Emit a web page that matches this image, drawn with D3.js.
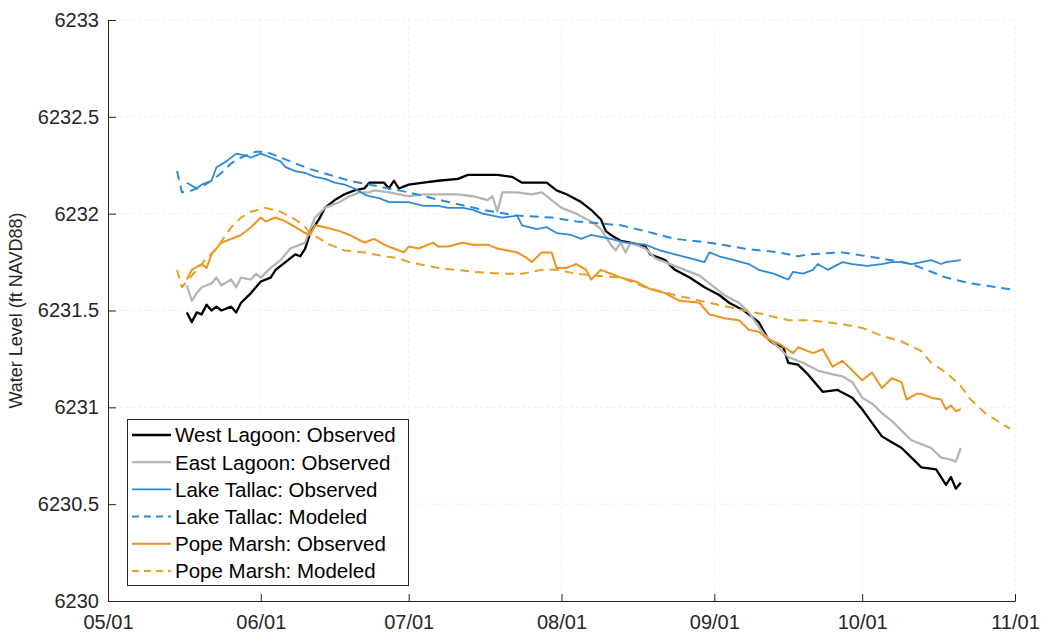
<!DOCTYPE html>
<html><head><meta charset="utf-8">
<script src="https://cdn.jsdelivr.net/npm/d3@7"></script>
<style>body{margin:0;background:#fff;} text{font-family:"Liberation Sans",Arial,sans-serif;}</style>
</head><body>
<svg id="chart" width="1044" height="634"></svg>
<script>
const YEAR = 2019;
const xTickLabels = ["05/01","06/01","07/01","08/01","09/01","10/01","11/01"];
const yTicks = [6230, 6230.5, 6231, 6231.5, 6232, 6232.5, 6233];
const seriesNames = ["West Lagoon: Observed","East Lagoon: Observed","Lake Tallac: Observed","Lake Tallac: Modeled","Pope Marsh: Observed","Pope Marsh: Modeled"];

const westLagoon = [["05-17",6231.49],["05-18",6231.44],["05-19",6231.49],["05-20",6231.48],["05-21",6231.53],["05-22",6231.50],["05-23",6231.52],["05-24",6231.50],["05-26",6231.52],["05-27",6231.49],["05-28",6231.54],["05-30",6231.59],["05-31",6231.62],["06-01",6231.65],["06-03",6231.67],["06-04",6231.71],["06-06",6231.75],["06-08",6231.79],["06-09",6231.78],["06-10",6231.82],["06-11",6231.90],["06-12",6231.94],["06-13",6231.98],["06-14",6232.03],["06-16",6232.07],["06-18",6232.10],["06-20",6232.12],["06-22",6232.13],["06-23",6232.16],["06-25",6232.16],["06-26",6232.16],["06-27",6232.13],["06-28",6232.17],["06-29",6232.13],["07-01",6232.15],["07-04",6232.16],["07-07",6232.17],["07-11",6232.18],["07-13",6232.20],["07-16",6232.20],["07-19",6232.20],["07-22",6232.19],["07-24",6232.16],["07-27",6232.16],["07-29",6232.16],["07-31",6232.12],["08-02",6232.10],["08-05",6232.06],["08-07",6232.02],["08-09",6231.97],["08-10",6231.91],["08-11",6231.89],["08-13",6231.86],["08-15",6231.85],["08-18",6231.83],["08-19",6231.79],["08-22",6231.76],["08-24",6231.71],["08-27",6231.67],["08-30",6231.62],["09-02",6231.58],["09-04",6231.54],["09-07",6231.50],["09-10",6231.44],["09-12",6231.35],["09-13",6231.33],["09-15",6231.31],["09-16",6231.23],["09-18",6231.22],["09-20",6231.17],["09-23",6231.08],["09-26",6231.09],["09-29",6231.05],["10-01",6230.99],["10-03",6230.92],["10-05",6230.85],["10-07",6230.82],["10-09",6230.79],["10-11",6230.74],["10-13",6230.69],["10-16",6230.68],["10-18",6230.60],["10-19",6230.64],["10-20",6230.58],["10-21",6230.61]];

const eastLagoon = [["05-17",6231.63],["05-18",6231.55],["05-19",6231.59],["05-20",6231.62],["05-22",6231.64],["05-23",6231.67],["05-24",6231.63],["05-26",6231.66],["05-27",6231.62],["05-28",6231.67],["05-30",6231.66],["05-31",6231.69],["06-01",6231.67],["06-03",6231.72],["06-05",6231.76],["06-07",6231.82],["06-09",6231.84],["06-10",6231.85],["06-11",6231.92],["06-12",6231.98],["06-14",6232.03],["06-17",6232.06],["06-19",6232.09],["06-21",6232.11],["06-23",6232.11],["06-24",6232.12],["06-27",6232.11],["06-29",6232.10],["07-01",6232.09],["07-04",6232.10],["07-07",6232.10],["07-11",6232.10],["07-14",6232.09],["07-17",6232.07],["07-18",6232.09],["07-19",6232.01],["07-20",6232.11],["07-23",6232.11],["07-26",6232.10],["07-28",6232.11],["07-30",6232.07],["08-01",6232.03],["08-04",6232.00],["08-07",6231.96],["08-09",6231.92],["08-11",6231.84],["08-12",6231.81],["08-13",6231.85],["08-14",6231.80],["08-15",6231.85],["08-18",6231.82],["08-20",6231.77],["08-22",6231.75],["08-25",6231.72],["08-29",6231.68],["08-31",6231.64],["09-03",6231.58],["09-06",6231.54],["09-08",6231.49],["09-11",6231.38],["09-14",6231.31],["09-16",6231.26],["09-19",6231.23],["09-22",6231.19],["09-25",6231.17],["09-27",6231.16],["09-29",6231.13],["10-01",6231.05],["10-03",6231.02],["10-05",6230.97],["10-07",6230.93],["10-09",6230.88],["10-11",6230.83],["10-13",6230.81],["10-15",6230.79],["10-17",6230.74],["10-19",6230.73],["10-20",6230.72],["10-21",6230.79]];

const tallacObserved = [["05-17",6232.16],["05-19",6232.13],["05-20",6232.15],["05-22",6232.17],["05-23",6232.24],["05-25",6232.27],["05-27",6232.31],["05-29",6232.30],["05-30",6232.29],["06-01",6232.31],["06-03",6232.29],["06-05",6232.27],["06-06",6232.24],["06-08",6232.22],["06-10",6232.21],["06-12",6232.19],["06-14",6232.18],["06-16",6232.16],["06-18",6232.15],["06-20",6232.13],["06-22",6232.10],["06-23",6232.09],["06-25",6232.08],["06-27",6232.06],["06-29",6232.06],["07-01",6232.06],["07-04",6232.04],["07-07",6232.04],["07-09",6232.03],["07-12",6232.03],["07-14",6232.02],["07-16",6232.00],["07-18",6231.99],["07-20",6231.98],["07-23",6231.99],["07-24",6231.94],["07-27",6231.92],["07-29",6231.93],["07-31",6231.90],["08-03",6231.89],["08-05",6231.87],["08-07",6231.89],["08-09",6231.88],["08-11",6231.87],["08-14",6231.85],["08-18",6231.84],["08-21",6231.81],["08-24",6231.79],["08-27",6231.77],["08-30",6231.75],["08-31",6231.80],["09-02",6231.78],["09-05",6231.76],["09-08",6231.74],["09-10",6231.71],["09-13",6231.69],["09-15",6231.67],["09-16",6231.66],["09-17",6231.70],["09-19",6231.69],["09-21",6231.71],["09-22",6231.74],["09-24",6231.71],["09-27",6231.75],["09-29",6231.74],["10-02",6231.73],["10-05",6231.74],["10-07",6231.75],["10-09",6231.75],["10-11",6231.74],["10-13",6231.75],["10-15",6231.76],["10-17",6231.74],["10-18",6231.75],["10-21",6231.76]];

const tallacModeled = [["05-15",6232.22],["05-16",6232.11],["05-18",6232.12],["05-20",6232.14],["05-22",6232.17],["05-24",6232.21],["05-26",6232.26],["05-28",6232.29],["05-31",6232.32],["06-02",6232.32],["06-05",6232.29],["06-07",6232.27],["06-11",6232.23],["06-15",6232.20],["06-19",6232.17],["06-23",6232.15],["06-27",6232.13],["07-01",6232.11],["07-09",6232.06],["07-16",6232.02],["07-23",6231.99],["07-30",6231.98],["08-04",6231.96],["08-13",6231.94],["08-18",6231.91],["08-24",6231.87],["08-31",6231.85],["09-07",6231.82],["09-14",6231.80],["09-18",6231.78],["09-20",6231.79],["09-27",6231.80],["10-02",6231.78],["10-07",6231.76],["10-11",6231.74],["10-14",6231.71],["10-18",6231.67],["10-23",6231.64],["10-31",6231.61]];

const popeObserved = [["05-17",6231.66],["05-18",6231.71],["05-20",6231.74],["05-21",6231.72],["05-22",6231.79],["05-24",6231.85],["05-26",6231.87],["05-28",6231.89],["05-30",6231.93],["06-01",6231.98],["06-02",6231.96],["06-04",6231.98],["06-06",6231.96],["06-08",6231.93],["06-10",6231.90],["06-11",6231.89],["06-12",6231.94],["06-14",6231.93],["06-17",6231.91],["06-19",6231.89],["06-22",6231.85],["06-24",6231.87],["06-26",6231.84],["06-28",6231.82],["06-30",6231.80],["07-01",6231.83],["07-03",6231.82],["07-05",6231.84],["07-06",6231.85],["07-07",6231.83],["07-09",6231.83],["07-12",6231.85],["07-14",6231.84],["07-17",6231.84],["07-19",6231.82],["07-21",6231.81],["07-23",6231.80],["07-25",6231.77],["07-26",6231.75],["07-28",6231.80],["07-30",6231.80],["07-31",6231.72],["08-02",6231.72],["08-04",6231.74],["08-06",6231.71],["08-07",6231.66],["08-09",6231.71],["08-11",6231.69],["08-13",6231.67],["08-16",6231.65],["08-19",6231.61],["08-22",6231.59],["08-25",6231.55],["08-29",6231.54],["08-31",6231.48],["09-03",6231.46],["09-06",6231.45],["09-08",6231.40],["09-10",6231.39],["09-12",6231.35],["09-14",6231.33],["09-17",6231.28],["09-18",6231.31],["09-21",6231.28],["09-23",6231.30],["09-25",6231.21],["09-27",6231.24],["09-29",6231.19],["10-01",6231.14],["10-03",6231.18],["10-05",6231.10],["10-07",6231.15],["10-09",6231.13],["10-10",6231.04],["10-12",6231.07],["10-13",6231.07],["10-15",6231.05],["10-17",6231.04],["10-18",6230.99],["10-19",6231.01],["10-20",6230.98],["10-21",6230.99]];

const popeModeled = [["05-15",6231.71],["05-16",6231.62],["05-19",6231.71],["05-21",6231.77],["05-23",6231.82],["05-26",6231.93],["05-28",6231.98],["05-30",6232.01],["06-02",6232.03],["06-05",6232.01],["06-08",6231.97],["06-10",6231.93],["06-11",6231.90],["06-13",6231.87],["06-15",6231.84],["06-18",6231.81],["06-22",6231.80],["06-26",6231.78],["06-29",6231.77],["07-01",6231.75],["07-07",6231.72],["07-14",6231.70],["07-20",6231.69],["07-24",6231.69],["07-28",6231.71],["07-31",6231.71],["08-04",6231.69],["08-08",6231.68],["08-13",6231.67],["08-18",6231.62],["08-24",6231.58],["08-31",6231.54],["09-07",6231.50],["09-11",6231.48],["09-16",6231.45],["09-20",6231.45],["09-27",6231.43],["10-01",6231.41],["10-05",6231.37],["10-09",6231.34],["10-13",6231.29],["10-15",6231.23],["10-18",6231.18],["10-21",6231.11],["10-23",6231.04],["10-26",6230.97],["10-29",6230.92],["10-31",6230.89]];

(function () {
const parse = d3.timeParse("%Y-%m-%d");
const toDate = s => parse(YEAR + "-" + s);

const series = [
  {name: seriesNames[0], data: westLagoon, color: "#000000", width: 2.3, dash: null},
  {name: seriesNames[1], data: eastLagoon, color: "#B5B5B5", width: 2.3, dash: null},
  {name: seriesNames[2], data: tallacObserved, color: "#2E8AD8", width: 1.8, dash: null},
  {name: seriesNames[3], data: tallacModeled, color: "#2E8AD8", width: 2, dash: "9,6"},
  {name: seriesNames[4], data: popeObserved, color: "#F0921E", width: 2, dash: null},
  {name: seriesNames[5], data: popeModeled, color: "#E6A026", width: 2, dash: "9,6"}
];

const svg = d3.select("#chart");
const pL = 108, pR = 1015, pT = 20, pB = 601;
const x = d3.scaleTime().domain([toDate("05-01"), toDate("11-01")]).range([pL, pR]);
const y = d3.scaleLinear().domain([6230, 6233]).range([pB, pT]);
const xTickDates = xTickLabels.map(l => toDate(l.replace("/", "-")));

const grid = svg.append("g");
grid.selectAll(".gx").data(xTickDates.slice(1)).join("line")
  .attr("x1", d => x(d)).attr("x2", d => x(d)).attr("y1", pT).attr("y2", pB)
  .attr("stroke", "#efefef").attr("stroke-dasharray", "3,3").attr("stroke-width", 1);
grid.selectAll(".gy").data(yTicks.slice(1)).join("line")
  .attr("x1", pL).attr("x2", pR).attr("y1", d => y(d)).attr("y2", d => y(d))
  .attr("stroke", "#efefef").attr("stroke-dasharray", "3,3").attr("stroke-width", 1);

const line = d3.line().x(d => x(toDate(d[0]))).y(d => y(d[1]));
series.forEach(s => {
  svg.append("path").datum(s.data).attr("d", line)
    .attr("fill", "none").attr("stroke", s.color).attr("stroke-width", s.width)
    .attr("stroke-linejoin", "round")
    .attr("stroke-dasharray", s.dash);
});

const xAxis = d3.axisBottom(x).tickValues(xTickDates).tickFormat((d, i) => xTickLabels[i]).tickSizeInner(-7).tickSizeOuter(0).tickPadding(14);
const gx = svg.append("g").attr("transform", `translate(0,${pB})`).call(xAxis);
const yAxis = d3.axisLeft(y).tickValues(yTicks).tickFormat(d => Number.isInteger(d) ? String(d) : d.toFixed(1)).tickSizeInner(-8).tickSizeOuter(0).tickPadding(9);
const gy = svg.append("g").attr("transform", `translate(${pL},0)`).call(yAxis);
[gx, gy].forEach(g => {
  g.select(".domain").attr("stroke", "#262626").attr("stroke-width", 1);
  g.selectAll(".tick line").attr("stroke", "#262626");
  g.selectAll(".tick text").attr("fill", "#262626").style("font-size", "20px").style("font-family", "'Liberation Sans', Arial, sans-serif");
});

svg.append("text").attr("transform", `translate(22,${(pT + pB) / 2}) rotate(-90)`)
  .attr("text-anchor", "middle").style("font-size", "18px").attr("fill", "#262626")
  .text("Water Level (ft NAVD88)");

const lg = svg.append("g");
lg.append("rect").attr("x", 127.5).attr("y", 419.5).attr("width", 281).attr("height", 166)
  .attr("fill", "#fff").attr("stroke", "#262626").attr("stroke-width", 1);
series.forEach((s, i) => {
  const yy = 435 + i * 27.2;
  lg.append("line").attr("x1", 132).attr("x2", 171).attr("y1", yy).attr("y2", yy)
    .attr("stroke", s.color).attr("stroke-width", s.width).attr("stroke-dasharray", s.dash ? "7,5" : null);
  lg.append("text").attr("x", 175).attr("y", yy).attr("dy", "0.36em")
    .style("font-size", "20.5px").attr("fill", "#000").text(s.name);
});
})();
</script>
</body></html>
